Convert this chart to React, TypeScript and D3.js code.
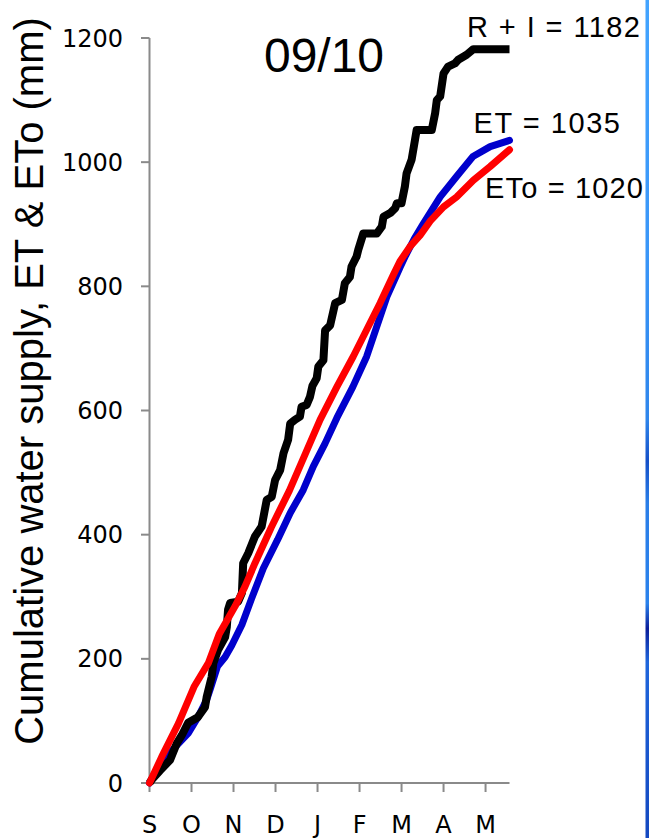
import React from "react";
import * as d3 from "d3";

// Season months, September to May
const monthLabels = ["S", "O", "N", "D", "J", "F", "M", "A", "M"];
const yTicks = [0, 200, 400, 600, 800, 1000, 1200];

// Cumulative rain + irrigation (mm), [months since 1 Sep, mm]
const supplyRI: [number, number][] = [
  [0, 0], [0.05, 5], [0.25, 20], [0.49, 37], [0.65, 64], [0.77, 77], [0.92, 97],
  [1.15, 106], [1.32, 122], [1.36, 138], [1.48, 171], [1.52, 193], [1.63, 214],
  [1.8, 235], [1.84, 251], [1.87, 279], [1.92, 290], [2.11, 292], [2.2, 306],
  [2.23, 354], [2.35, 370], [2.51, 397], [2.67, 413], [2.79, 456], [2.91, 461],
  [2.99, 488], [3.11, 504], [3.19, 531], [3.3, 553], [3.35, 579], [3.46, 585],
  [3.58, 590], [3.62, 606], [3.74, 609], [3.82, 622], [3.88, 640], [3.98, 652],
  [4.02, 671], [4.14, 681], [4.18, 729], [4.3, 737], [4.42, 773], [4.58, 778],
  [4.65, 805], [4.77, 815], [4.81, 832], [4.93, 848], [4.97, 859], [5.09, 885],
  [5.41, 885], [5.53, 896], [5.57, 912], [5.73, 918], [5.85, 926], [5.89, 934],
  [6.0, 934], [6.08, 961], [6.12, 982], [6.24, 1004], [6.32, 1036], [6.36, 1052],
  [6.72, 1052], [6.8, 1079], [6.84, 1100], [6.92, 1106], [7.0, 1143], [7.11, 1154],
  [7.27, 1159], [7.35, 1165], [7.55, 1173], [7.71, 1182], [8.57, 1182],
];

// Cumulative crop evapotranspiration ET (mm)
const cumET: [number, number][] = [
  [0, 0], [0.13, 16], [0.35, 38], [0.61, 58], [0.92, 80], [1.16, 107], [1.36, 134],
  [1.44, 150], [1.62, 188], [1.8, 203], [1.96, 222], [2.2, 255], [2.43, 297],
  [2.71, 346], [3.05, 392], [3.35, 435], [3.66, 472], [3.9, 510], [4.18, 547],
  [4.46, 588], [4.84, 638], [5.17, 687], [5.41, 735], [5.65, 783], [5.96, 830],
  [6.1, 850], [6.3, 876], [6.52, 901], [6.92, 944], [7.31, 977], [7.7, 1009],
  [8.11, 1025], [8.57, 1035],
];

// Cumulative reference evapotranspiration ETo (mm)
const cumETo: [number, number][] = [
  [0, 0], [0.29, 42], [0.69, 96], [1.06, 155], [1.4, 193], [1.66, 240], [2.04, 285],
  [2.27, 316], [2.51, 354], [2.9, 412], [3.33, 471], [3.74, 535], [4.06, 585],
  [4.46, 638], [4.85, 687], [5.17, 730], [5.49, 773], [5.8, 818], [5.96, 840],
  [6.2, 864], [6.44, 882], [6.68, 905], [7.0, 928], [7.31, 944], [7.71, 971],
  [8.11, 993], [8.57, 1020],
];

const totals = { ri: 1182, et: 1035, eto: 1020 };

const W = 649;
const H = 838;

export default function App() {
  const x = d3.scaleLinear().domain([0, 8.57]).range([149.5, 509.5]);
  const y = d3.scaleLinear().domain([0, 1200]).range([783, 38]);
  const line = d3
    .line<[number, number]>()
    .x((d) => x(d[0]))
    .y((d) => y(d[1]))
    .curve(d3.curveLinear);

  const axisColor = "#8a8a8a";
  const tickFont = "'DejaVu Sans', Verdana, sans-serif";
  const textFont = "'Liberation Sans', Arial, sans-serif";

  return (
    <svg
      width={W}
      height={H}
      viewBox={`0 0 ${W} ${H}`}
      style={{ position: "absolute", left: 0, top: 0, background: "#fff" }}
    >
      <defs>
        <linearGradient id="edgeBar" x1="0" y1="0" x2="0" y2="1">
          <stop offset="0" stopColor="#43a4ff" />
          <stop offset="0.3" stopColor="#3a96f8" />
          <stop offset="0.5" stopColor="#2f86ec" />
          <stop offset="0.55" stopColor="#1450c8" />
          <stop offset="0.6" stopColor="#2a7ee8" />
          <stop offset="0.72" stopColor="#2a82ec" />
          <stop offset="0.75" stopColor="#0a1e9a" />
          <stop offset="0.79" stopColor="#1f66dc" />
          <stop offset="1" stopColor="#1448c0" />
        </linearGradient>
      </defs>
      <rect x={0} y={0} width={W} height={H} fill="#fff" />
      <rect x={645.5} y={0} width={3.5} height={H} fill="url(#edgeBar)" />

      {/* axes */}
      <line x1={x(0)} x2={x(0)} y1={y(1200)} y2={y(0)} stroke={axisColor} strokeWidth={2} />
      <line x1={141} x2={x(8.57)} y1={y(0)} y2={y(0)} stroke={axisColor} strokeWidth={2} />
      {yTicks.map((t) => (
        <g key={t}>
          <line x1={141} x2={x(0)} y1={y(t)} y2={y(t)} stroke={axisColor} strokeWidth={2} />
          <text
            x={123}
            y={y(t)}
            dy="0.36em"
            textAnchor="end"
            fontFamily={tickFont}
            fontSize={24}
            fill="#000"
          >
            {t}
          </text>
        </g>
      ))}
      {monthLabels.map((m, i) => (
        <g key={i}>
          <line x1={x(i)} x2={x(i)} y1={y(0)} y2={y(0) + 9} stroke={axisColor} strokeWidth={2} />
          <text
            x={x(i)}
            y={833}
            textAnchor="middle"
            fontFamily={tickFont}
            fontSize={24}
            fill="#000"
          >
            {m}
          </text>
        </g>
      ))}

      {/* series */}
      <path d={line(cumET) ?? ""} fill="none" stroke="#0000cc" strokeWidth={7} strokeLinejoin="round" strokeLinecap="round" />
      <path d={line(supplyRI) ?? ""} fill="none" stroke="#000" strokeWidth={8} strokeLinejoin="round" strokeLinecap="butt" />
      <path d={line(cumETo) ?? ""} fill="none" stroke="#ff0000" strokeWidth={7} strokeLinejoin="round" strokeLinecap="round" />

      {/* title and labels */}
      <text x={324} y={72} textAnchor="middle" fontFamily={textFont} fontSize={48} fill="#000">
        09/10
      </text>
      <text
        transform="translate(43,381) rotate(-90)"
        textAnchor="middle"
        fontFamily={textFont}
        fontSize={40}
        fill="#000"
      >
        Cumulative water supply, ET &amp; ETo (mm)
      </text>
      <text x={467} y={37} fontFamily={textFont} fontSize={29} textLength={173} lengthAdjust="spacing" fill="#000">
        {`R + I = ${totals.ri}`}
      </text>
      <text x={473.5} y={133} fontFamily={textFont} fontSize={29} textLength={146.5} lengthAdjust="spacing" fill="#000">
        {`ET = ${totals.et}`}
      </text>
      <text x={485} y={198} fontFamily={textFont} fontSize={29} textLength={158} lengthAdjust="spacing" fill="#000">
        {`ETo = ${totals.eto}`}
      </text>
    </svg>
  );
}
